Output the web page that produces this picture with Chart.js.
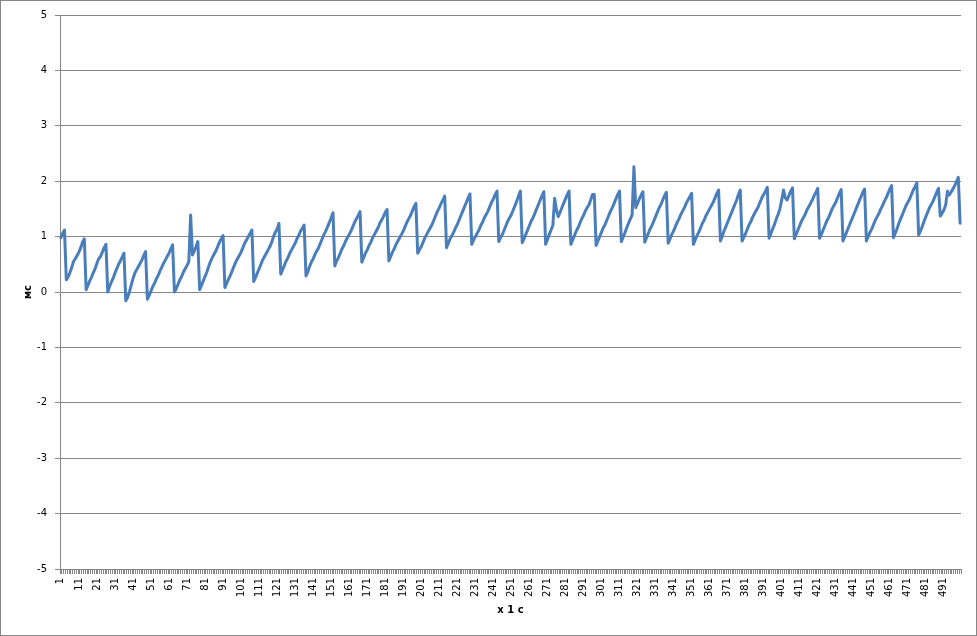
<!DOCTYPE html>
<html><head><meta charset="utf-8">
<script src="https://cdn.jsdelivr.net/npm/chart.js@4.4.1/dist/chart.umd.min.js"></script>
<style>html,body{margin:0;padding:0;background:#fff;}canvas{display:block;}</style>
</head><body>
<canvas id="c" width="977" height="636"></canvas>
<script>
const yAxisTitle = 'мс';
const xAxisTitle = 'х 1 с';
const yMin = -5, yMax = 5, yStep = 1;

const msValues = [
  0.98, 1.06, 1.12,
  0.22, 0.27, 0.35, 0.44, 0.55, 0.60, 0.66, 0.72, 0.80, 0.90, 0.96,
  0.04, 0.12, 0.20, 0.27, 0.35, 0.42, 0.52, 0.60, 0.64, 0.72, 0.80, 0.86,
  0.00, 0.10, 0.18, 0.25, 0.34, 0.42, 0.50, 0.56, 0.63, 0.70,
  -0.16, -0.10, 0.00, 0.12, 0.24, 0.34, 0.40, 0.46, 0.52, 0.58, 0.66, 0.73,
  -0.13, -0.06, 0.02, 0.10, 0.16, 0.24, 0.30, 0.38, 0.45, 0.52, 0.58, 0.64, 0.70, 0.78, 0.85,
  0.00, 0.06, 0.14, 0.22, 0.28, 0.36, 0.42, 0.48, 0.55, 1.39, 0.67, 0.74, 0.82, 0.91,
  0.04, 0.12, 0.20, 0.28, 0.36, 0.46, 0.55, 0.62, 0.68, 0.74, 0.82, 0.90, 0.96, 1.02,
  0.08, 0.16, 0.23, 0.30, 0.38, 0.46, 0.54, 0.60, 0.66, 0.72, 0.80, 0.88, 0.94, 1.00, 1.06, 1.12,
  0.19, 0.26, 0.34, 0.42, 0.50, 0.58, 0.64, 0.70, 0.76, 0.82, 0.90, 1.00, 1.08, 1.14, 1.24,
  0.32, 0.40, 0.48, 0.56, 0.62, 0.70, 0.76, 0.82, 0.88, 0.96, 1.02, 1.10, 1.15, 1.21,
  0.29, 0.36, 0.46, 0.54, 0.60, 0.68, 0.74, 0.80, 0.88, 0.96, 1.04, 1.10, 1.18, 1.26, 1.34, 1.43,
  0.47, 0.56, 0.62, 0.70, 0.78, 0.84, 0.92, 0.98, 1.04, 1.10, 1.18, 1.26, 1.32, 1.38, 1.45,
  0.54, 0.62, 0.70, 0.76, 0.84, 0.90, 0.98, 1.04, 1.10, 1.16, 1.24, 1.30, 1.36, 1.44, 1.49,
  0.56, 0.64, 0.72, 0.78, 0.86, 0.92, 0.98, 1.04, 1.10, 1.18, 1.26, 1.32, 1.38, 1.46, 1.54, 1.60,
  0.70, 0.76, 0.82, 0.90, 0.98, 1.04, 1.10, 1.16, 1.22, 1.30, 1.38, 1.46, 1.52, 1.60, 1.66, 1.73,
  0.80, 0.88, 0.96, 1.02, 1.08, 1.16, 1.22, 1.30, 1.38, 1.46, 1.54, 1.62, 1.70, 1.77,
  0.86, 0.94, 1.00, 1.06, 1.12, 1.20, 1.26, 1.34, 1.40, 1.46, 1.54, 1.62, 1.68, 1.76, 1.82,
  0.91, 0.98, 1.04, 1.12, 1.20, 1.28, 1.34, 1.40, 1.48, 1.56, 1.64, 1.74, 1.82,
  0.89, 0.96, 1.04, 1.12, 1.20, 1.28, 1.34, 1.42, 1.50, 1.58, 1.66, 1.74, 1.81,
  0.86, 0.95, 1.04, 1.12, 1.20, 1.69, 1.48, 1.36, 1.44, 1.52, 1.60, 1.68, 1.76, 1.82,
  0.86, 0.94, 1.02, 1.10, 1.16, 1.24, 1.32, 1.38, 1.46, 1.52, 1.57, 1.66, 1.76, 1.76,
  0.84, 0.92, 1.00, 1.08, 1.16, 1.22, 1.30, 1.38, 1.46, 1.52, 1.60, 1.68, 1.76, 1.82,
  0.91, 0.99, 1.07, 1.16, 1.24, 1.32, 1.39, 2.26, 1.52, 1.60, 1.68, 1.75, 1.81,
  0.90, 0.98, 1.06, 1.14, 1.20, 1.28, 1.36, 1.44, 1.52, 1.58, 1.66, 1.74, 1.80,
  0.88, 0.96, 1.04, 1.10, 1.18, 1.26, 1.32, 1.40, 1.46, 1.52, 1.60, 1.66, 1.72, 1.78,
  0.86, 0.94, 1.02, 1.08, 1.16, 1.24, 1.30, 1.38, 1.44, 1.50, 1.56, 1.62, 1.70, 1.78, 1.84,
  0.92, 1.00, 1.10, 1.18, 1.26, 1.34, 1.42, 1.50, 1.58, 1.66, 1.76, 1.84,
  0.92, 0.99, 1.06, 1.14, 1.22, 1.28, 1.36, 1.42, 1.48, 1.54, 1.62, 1.70, 1.76, 1.82, 1.89,
  0.97, 1.05, 1.14, 1.22, 1.32, 1.40, 1.50, 1.66, 1.84, 1.70, 1.66, 1.74, 1.82, 1.88,
  0.96, 1.04, 1.12, 1.20, 1.28, 1.34, 1.40, 1.48, 1.54, 1.60, 1.66, 1.74, 1.80, 1.87,
  0.97, 1.04, 1.12, 1.20, 1.28, 1.34, 1.42, 1.50, 1.56, 1.62, 1.70, 1.78, 1.85,
  0.92, 1.00, 1.08, 1.16, 1.24, 1.32, 1.40, 1.48, 1.56, 1.64, 1.72, 1.80, 1.86,
  0.92, 1.00, 1.08, 1.14, 1.22, 1.30, 1.36, 1.42, 1.50, 1.56, 1.64, 1.70, 1.78, 1.86, 1.92,
  0.98, 1.06, 1.14, 1.24, 1.32, 1.40, 1.48, 1.56, 1.62, 1.68, 1.76, 1.84, 1.90, 1.97,
  1.03, 1.10, 1.18, 1.28, 1.36, 1.44, 1.52, 1.58, 1.64, 1.72, 1.80, 1.87,
  1.37, 1.42, 1.48, 1.57, 1.82, 1.75, 1.80, 1.86, 1.92, 1.99, 2.07, 1.24
];

const categories = msValues.map((_, i) => String(i + 1));
const labelEvery = 10;

const GRID = '#868686';
const FONT = 'DejaVu Sans';

const framePlugin = {
  id: 'frame',
  beforeDraw(chart) {
    const ctx = chart.ctx;
    ctx.save();
    ctx.fillStyle = '#ffffff';
    ctx.fillRect(0, 0, chart.width, chart.height);
    ctx.restore();
  },
  afterDraw(chart) {
    const ctx = chart.ctx;
    ctx.save();
    ctx.strokeStyle = GRID;
    ctx.lineWidth = 1;
    ctx.strokeRect(0.5, 0.5, chart.width - 1, chart.height - 1);
    ctx.restore();
  }
};

new Chart(document.getElementById('c'), {
  type: 'line',
  data: {
    labels: categories,
    datasets: [{
      data: msValues,
      borderColor: '#4A7EBB',
      borderWidth: 3,
      pointRadius: 0,
      pointHoverRadius: 0,
      tension: 0,
      fill: false,
      borderJoinStyle: 'round',
      borderCapStyle: 'round'
    }]
  },
  options: {
    responsive: false,
    animation: false,
    devicePixelRatio: 1,
    events: [],
    layout: { padding: { top: 15, right: 16, left: 0, bottom: 0 } },
    plugins: { legend: { display: false }, tooltip: { enabled: false } },
    scales: {
      x: {
        type: 'category',
        offset: true,
        grid: { display: true, drawOnChartArea: false, drawTicks: true, tickLength: 5, color: GRID, offset: true, lineWidth: 1 },
        border: { display: true, color: GRID, width: 1 },
        ticks: {
          autoSkip: false,
          minRotation: 90,
          maxRotation: 90,
          padding: 4,
          color: '#000',
          font: { family: FONT, size: 10 },
          callback: (v, i) => (i % labelEvery === 0 ? categories[i] : '')
        },
        title: { display: true, text: xAxisTitle, color: '#000', font: { family: FONT, size: 10, weight: 'bold' }, padding: { top: 0, bottom: 20 } },
        afterFit: (s) => { s.height = 67; }
      },
      y: {
        min: yMin,
        max: yMax,
        grid: { color: GRID, tickLength: 5, drawTicks: true, lineWidth: 1 },
        border: { display: true, color: GRID, width: 1 },
        ticks: { stepSize: yStep, padding: 8, color: '#000', font: { family: FONT, size: 10 } },
        title: { display: true, text: yAxisTitle, color: '#000', font: { family: FONT, size: 10, weight: 'bold' }, padding: { top: 22, bottom: 0 } },
        afterFit: (s) => { s.width = 60; }
      }
    }
  },
  plugins: [framePlugin]
});
</script>
</body></html>
